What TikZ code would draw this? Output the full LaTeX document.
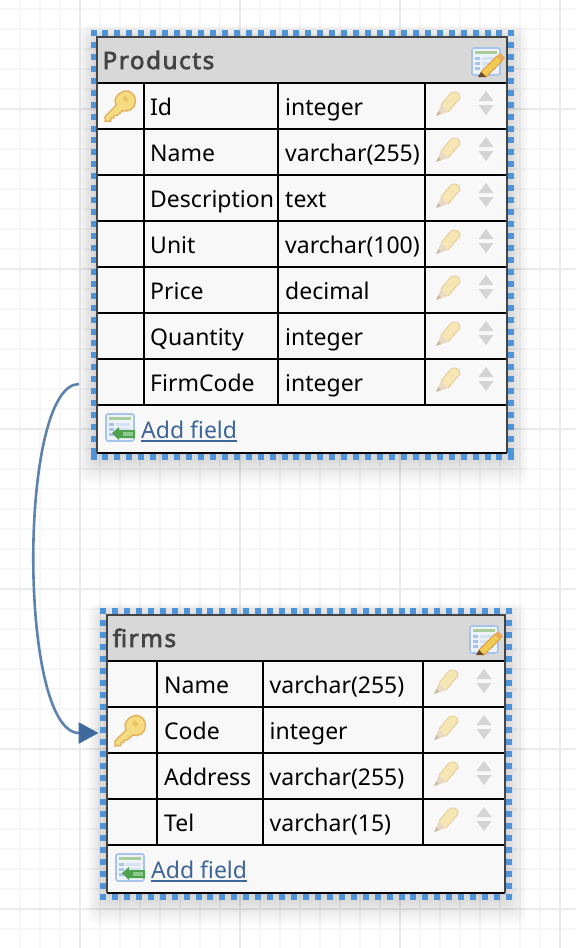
\documentclass[tikz,border=0pt]{standalone}
\usepackage{fontspec}
\setmainfont{Noto Sans}
\newfontfamily\titlefont[LetterSpace=7,FakeBold=3]{Noto Sans}
\usetikzlibrary{arrows.meta}
\definecolor{gridminor}{HTML}{F6F6F6}
\definecolor{gridmajor}{HTML}{EBEBEB}
\definecolor{selblue}{HTML}{4F94D8}
\definecolor{headgrey}{HTML}{D8D8D8}
\definecolor{cellbg}{HTML}{F8F8F8}
\definecolor{linkblue}{HTML}{3D6597}
\definecolor{fkline}{HTML}{5D82AD}
\definecolor{fktip}{HTML}{3F6A9F}
\definecolor{borderdark}{HTML}{444444}
\definecolor{keyfill}{HTML}{F6DC80}
\definecolor{keyedge}{HTML}{E2B05E}
\definecolor{keyhole}{HTML}{EBC565}
\definecolor{penfill}{HTML}{F5E6B4}
\definecolor{penedge}{HTML}{E8CF9E}
\definecolor{pentip}{HTML}{EAD9C2}
\definecolor{pengrey}{HTML}{C9BDAA}
\definecolor{iconedge}{HTML}{A9C4EA}
\definecolor{iconback}{HTML}{EEF3FB}
\definecolor{iconrule}{HTML}{A8CC9A}
\definecolor{iconcell}{HTML}{A9C4EA}
\definecolor{iconcellb}{HTML}{D5E2F5}
\definecolor{goldfill}{HTML}{F2CB55}
\definecolor{goldedge}{HTML}{D99A3C}
\definecolor{goldend}{HTML}{E8A860}
\definecolor{goldtip}{HTML}{6B4A25}
\definecolor{greenarrow}{HTML}{4FA24F}
\definecolor{greenlight}{HTML}{8CC98C}
\tikzset{
  tablebox/.style={draw=none,fill=cellbg,minimum width=0pt,inner sep=0pt},
  selection/.style={draw=selblue,line width=6pt,dash pattern=on 6pt off 5.94pt},
  rowline/.style={draw=black,line width=2pt},
  cell/.style={anchor=base west,inner sep=0pt,font=\fontsize{23}{26}\selectfont,text=black},
  tabletitle/.style={anchor=base west,inner sep=0pt,font=\titlefont\fontsize{24}{26}\selectfont,text=borderdark},
  addlink/.style={anchor=base west,inner sep=0pt,font=\fontsize{23}{26}\selectfont,text=linkblue},
  pics/keyicon/.style={code={
    \fill[draw=keyedge,line width=1.4pt,fill=keyfill]
      (-15,10) -- (-4,-1) -- (-5,-6) .. controls (-3,-14) and (4,-16) .. (8,-15.5)
      .. controls (13,-14) and (16,-9) .. (15.5,-5) .. controls (15,2) and (9,6) .. (3,4)
      -- (-3,9) -- (-6,9) -- (-6,11.5) -- (-9,11.5) -- (-9,14.5) -- (-15,15) -- cycle;
    \fill[keyhole] (2,-8) -- (5,-11) -- (9,-7) -- (6,-4) -- cycle;
  }},
  pics/penicon/.style={code={
    \fill[penfill] (-7,1) -- (2,-10) .. controls (5,-14) and (13,-12) .. (12,-6) -- (0,8) -- cycle;
    \draw[penedge,line width=1pt] (-7,1) -- (2,-10) .. controls (5,-14) and (13,-12) .. (12,-6) -- (0,8);
    \fill[pentip] (-7,1) -- (-12,12) -- (0,8) -- cycle;
    \fill[pengrey] (-9.5,7) -- (-12,12) -- (-7,10) -- cycle;
  }},
  pics/sorticon/.style={code={
    \fill[black!17] (-7.5,-3) -- (0,-13) -- (7.5,-3) -- cycle;
    \fill[black!17] (-7.5,1) -- (7.5,1) -- (0,11) -- cycle;
  }},
  pics/gridicon/.style={code={
    \fill[draw=iconedge,line width=1.6pt,fill=iconback,rounded corners=2pt] (-14,-14) rectangle (14,13);
    \fill[iconrule] (-11,-11) rectangle (11,-8.5);
    \foreach \yy in {-5,0,5} {\fill[iconcell] (-11,\yy) rectangle (-6,\yy+3);\fill[iconcellb] (-4,\yy) rectangle (10,\yy+3);}
  }},
  pics/titleicon/.style={code={
    \pic {gridicon};
    \fill[draw=goldedge,line width=.8pt,fill=goldfill] (-5,10) -- (11,-6) -- (16,-1) -- (0,15) -- cycle;
    \fill[goldtip] (-5,10) -- (-8,15) -- (0,15) -- cycle;
    \fill[goldend] (11,-6) -- (14,-9) -- (19,-4) -- (16,-1) -- cycle;
  }},
  pics/addicon/.style={code={
    \pic {gridicon};
    \fill[greenarrow] (-8,5) -- (-1,-1) -- (-1,2) -- (15,2) -- (15,10) -- (-1,10) -- (-1,12) -- cycle;
    \fill[greenlight] (3,4) rectangle (13,8);
  }},
}
\newcommand{\softshadow}[4]{%
  \foreach \ss in {0,...,13}{
    \fill[black,opacity=0.011,rounded corners=10pt]
      ({#1-20+1.4*\ss},{#2-12+1.0*\ss}) rectangle ({#3+22-1.6*\ss},{#4+32-2.2*\ss});
  }}
\newcommand{\selbox}[4]{%
  \draw[selection] ({#1},{#2+3}) -- ({#3+6},{#2+3});
  \draw[selection] ({#1+3},{#2}) -- ({#1+3},{#4+6});
  \draw[selection] ({#3+3},{#2}) -- ({#3+3},{#4+6});
  \draw[selection] ({#1},{#4+3}) -- ({#3+6},{#4+3});
  \fill[selblue] (#3,#4) rectangle ({#3+6},{#4+6});
  \fill[selblue] (#1,#4) rectangle ({#1+6},{#4+6});
  \fill[selblue] (#3,#2) rectangle ({#3+6},{#2+6});
}
\begin{document}
\begin{tikzpicture}[x=1pt,y=-1pt]
\useasboundingbox (0,0) rectangle (576,948);
\fill[white] (0,0) rectangle (576,948);
% grid
\foreach \gx in {19.5,39.5,...,579} {\draw[gridminor,line width=2pt] (\gx,0) -- (\gx,948);}
\foreach \gy in {8.5,28.5,...,948} {\draw[gridminor,line width=2pt] (0,\gy) -- (576,\gy);}
\foreach \gx in {79.5,239.5,399.5,559.5} {\draw[gridmajor,line width=2pt] (\gx,0) -- (\gx,948);}
\foreach \gy in {108.5,268.5,428.5,588.5,748.5,908.5} {\draw[gridmajor,line width=2pt] (0,\gy) -- (576,\gy);}
% shadows
\softshadow{97}{37}{507}{453}
\softshadow{107}{615}{505}{893}
% Products table
\node[tablebox,minimum width=410pt,minimum height=416pt,anchor=north west] (prod) at (97,37) {};
\fill[headgrey] (97,37) rectangle (507,83);
\selbox{90.5}{30}{508}{453.5}
\foreach \ry in {83,129,175,221,267,313,359,405} {\draw[rowline] (97,\ry) -- (507,\ry);}
\foreach \cx in {143.5,278,425} {\draw[rowline] (\cx,83) -- (\cx,405);}
\draw[draw=black,line width=2pt] (97,453) -- (507,453);
\draw[draw=borderdark,line width=2.2pt] (97,453) -- (97,37) -- (507,37) -- (507,453);
\node[tabletitle] (ptitle) at (102.5,69) {Products};
\pic at (486,62) {titleicon};
\pic at (120,106.5) {keyicon};
\node[cell] (p1a) at (150,115) {Id};
\node[cell] (p1b) at (285,115) {integer};
\node[cell] (p2a) at (150,161) {Name};
\node[cell] (p2b) at (285,161) {varchar(255)};
\node[cell] (p3a) at (150,207) {Description};
\node[cell] (p3b) at (285,207) {text};
\node[cell] (p4a) at (150,253) {Unit};
\node[cell] (p4b) at (285,253) {varchar(100)};
\node[cell] (p5a) at (150,299) {Price};
\node[cell] (p5b) at (285,299) {decimal};
\node[cell] (p6a) at (150,345) {Quantity};
\node[cell] (p6b) at (285,345) {integer};
\node[cell] (p7a) at (150,391) {FirmCode};
\node[cell] (p7b) at (285,391) {integer};
\foreach \ry in {104,150,196,242,288,334,380} {
  \pic at (448,\ry) {penicon};
  \pic at (486,\ry) {sorticon};
}
\pic at (120,428) {addicon};
\node[addlink] (padd) at (141,438) {Add field};
\draw[linkblue,line width=1.4pt] ([yshift=-3pt]padd.base west) -- ([yshift=-3pt]padd.base east);
% firms table
\node[tablebox,minimum width=398pt,minimum height=278pt,anchor=north west] (firm) at (107,615) {};
\fill[headgrey] (107,615) rectangle (505,661);
\selbox{100}{608}{506}{894}
\foreach \ry in {661,707,753,799,845} {\draw[rowline] (107,\ry) -- (505,\ry);}
\foreach \cx in {157,263,423} {\draw[rowline] (\cx,661) -- (\cx,845);}
\draw[draw=black,line width=2pt] (107,893) -- (505,893);
\draw[draw=borderdark,line width=2.2pt] (107,893) -- (107,615) -- (505,615) -- (505,893);
\node[tabletitle] (ftitle) at (112.5,647) {firms};
\pic at (484,640) {titleicon};
\pic at (130,731) {keyicon};
\node[cell] (f1a) at (164,693) {Name};
\node[cell] (f1b) at (269.5,693) {varchar(255)};
\node[cell] (f2a) at (164,739) {Code};
\node[cell] (f2b) at (269.5,739) {integer};
\node[cell] (f3a) at (164,785) {Address};
\node[cell] (f3b) at (269.5,785) {varchar(255)};
\node[cell] (f4a) at (164,831) {Tel};
\node[cell] (f4b) at (269.5,831) {varchar(15)};
\foreach \ry in {682,728,774,820} {
  \pic at (446,\ry) {penicon};
  \pic at (484,\ry) {sorticon};
}
\pic at (130,868) {addicon};
\node[addlink] (fadd) at (151,878) {Add field};
\draw[linkblue,line width=1.4pt] ([yshift=-3pt]fadd.base west) -- ([yshift=-3pt]fadd.base east);
% connector
\coordinate (fkfrom) at (79,384);
\coordinate (fkto) at (98.5,733);
\draw[fkline,line width=2.6pt,-{Triangle[length=20pt,width=21pt,fill=fktip,color=fktip]}]
  (fkfrom) .. controls (18,384) and (18,733) .. (fkto);
\end{tikzpicture}
\end{document}
